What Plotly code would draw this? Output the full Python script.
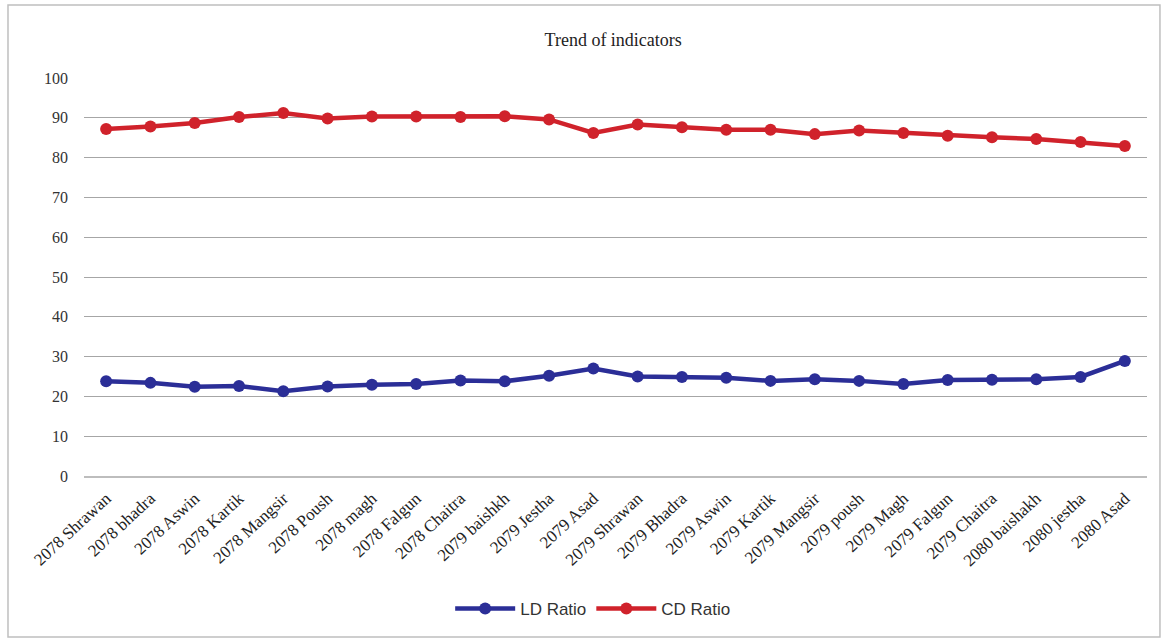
import plotly.graph_objects as go

# Monthly periods (Nepali calendar)
months = [
    "2078 Shrawan", "2078 bhadra", "2078 Aswin", "2078 Kartik", "2078 Mangsir",
    "2078 Poush", "2078 magh", "2078 Falgun", "2078 Chaitra", "2079 baishkh",
    "2079 Jestha", "2079 Asad", "2079 Shrawan", "2079 Bhadra", "2079 Aswin",
    "2079 Kartik", "2079 Mangsir", "2079 poush", "2079 Magh", "2079 Falgun",
    "2079 Chaitra", "2080 baishakh", "2080 jestha", "2080 Asad",
]

ld_ratio = [
    23.8, 23.4, 22.4, 22.6, 21.3, 22.5, 22.9, 23.1, 24.0, 23.8, 25.2, 27.0,
    25.0, 24.9, 24.7, 23.9, 24.3, 23.9, 23.1, 24.1, 24.2, 24.3, 24.9, 28.9,
]

cd_ratio = [
    87.2, 87.8, 88.7, 90.2, 91.2, 89.8, 90.3, 90.3, 90.2, 90.4, 89.6, 86.2,
    88.3, 87.6, 87.0, 87.0, 85.9, 86.8, 86.2, 85.5, 85.1, 84.7, 83.9, 82.9,
]

y_ticks = [0, 10, 20, 30, 40, 50, 60, 70, 80, 90, 100]

BLUE = "#2B2E97"
RED = "#D0222B"
SERIF = "Liberation Serif, Times New Roman, serif"
SANS = "Liberation Sans, Arial, sans-serif"

fig = go.Figure()
fig.add_trace(go.Scatter(
    x=months, y=ld_ratio, name="LD Ratio", mode="lines+markers",
    line=dict(color=BLUE, width=4.5), marker=dict(color=BLUE, size=12),
))
fig.add_trace(go.Scatter(
    x=months, y=cd_ratio, name="CD Ratio", mode="lines+markers",
    line=dict(color=RED, width=4.5), marker=dict(color=RED, size=12),
))

fig.update_layout(
    width=1168, height=642,
    margin=dict(l=84, r=21, t=78, b=166),
    paper_bgcolor="white", plot_bgcolor="white",
    title=dict(
        text="Trend of indicators", x=0.525, xanchor="center",
        y=1 - 40 / 642, yref="container", yanchor="middle",
        font=dict(family=SERIF, size=18, color="#222222"),
    ),
    legend=dict(
        orientation="h", x=0.479, xanchor="center",
        y=1 - 609 / 642, yref="container", yanchor="middle",
        font=dict(family=SANS, size=17, color="#333333"),
        itemwidth=60, tracegroupgap=0,
    ),
    showlegend=True,
    shapes=[dict(
        type="rect", xref="paper", yref="paper",
        x0=-0.0715, x1=1.0122, y0=-0.4045, y1=1.1834,
        line=dict(color="#BFBFBF", width=1.5), fillcolor="rgba(0,0,0,0)",
        layer="below",
    )],
)

fig.update_xaxes(
    type="category", tickangle=-43, showgrid=False,
    showline=True, linecolor="#BDBDBD", linewidth=1.5,
    ticks="", ticklabelstandoff=4,
    tickfont=dict(family=SERIF, size=17, color="#222222"),
    range=[-0.5, len(months) - 0.5],
)
fig.update_yaxes(
    range=[0, 100], tickvals=y_ticks, showgrid=True,
    gridcolor="#A6A6A6", gridwidth=1.2, zeroline=False,
    showline=False, ticks="", ticklabelstandoff=15,
    tickfont=dict(family=SERIF, size=16, color="#333333"),
)

fig.write_html("out.html")
